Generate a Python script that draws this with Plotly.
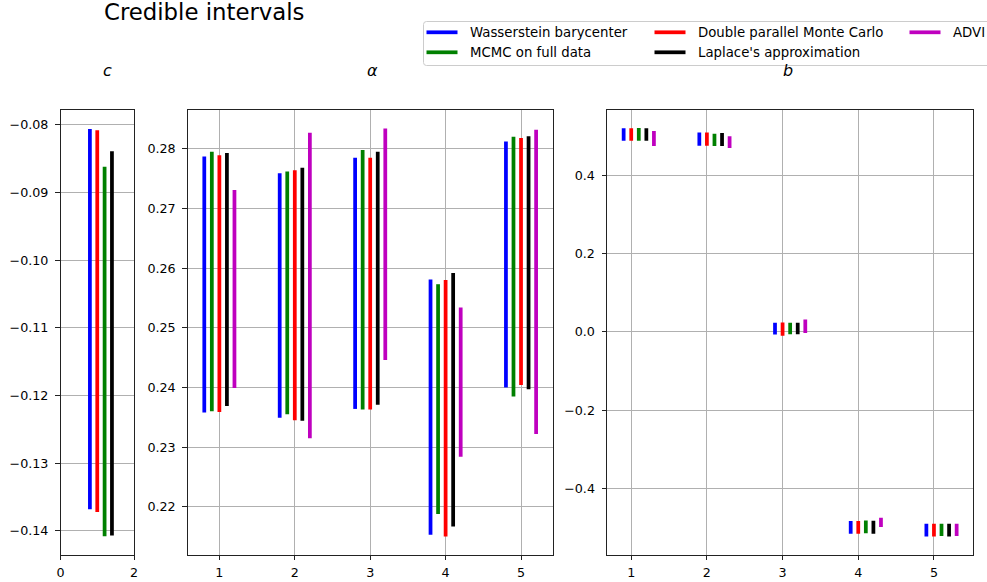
import plotly.graph_objects as go

# ---------------- data ----------------
methods = ["Wasserstein barycenter", "MCMC on full data", "Double parallel Monte Carlo",
           "Laplace's approximation", "ADVI"]
groups = [1, 2, 3, 4, 5]

# parameter c (single value, ADVI not shown)
c_hi = {"Wasserstein barycenter": -0.0806, "Double parallel Monte Carlo": -0.0808,
        "MCMC on full data": -0.0862, "Laplace's approximation": -0.0839}
c_lo = {"Wasserstein barycenter": -0.1368, "Double parallel Monte Carlo": -0.1372,
        "MCMC on full data": -0.1408, "Laplace's approximation": -0.1407}

# parameter alpha
alpha_hi_wb = [0.2787, 0.2759, 0.2785, 0.2581, 0.2812]
alpha_lo_wb = [0.2358, 0.2349, 0.2364, 0.2153, 0.2400]
alpha_hi_mcmc = [0.2795, 0.2762, 0.2798, 0.2573, 0.2820]
alpha_lo_mcmc = [0.2360, 0.2355, 0.2363, 0.2188, 0.2385]
alpha_hi_dpmc = [0.2789, 0.2764, 0.2785, 0.2580, 0.2818]
alpha_lo_dpmc = [0.2359, 0.2345, 0.2363, 0.2150, 0.2404]
alpha_hi_lap = [0.2793, 0.2768, 0.2795, 0.2592, 0.2821]
alpha_lo_lap = [0.2369, 0.2344, 0.2371, 0.2167, 0.2397]
alpha_hi_advi = [0.2731, 0.2827, 0.2834, 0.2534, 0.2832]
alpha_lo_advi = [0.2399, 0.2315, 0.2446, 0.2284, 0.2322]

# parameter b
b_hi_wb = [0.5204, 0.5092, 0.0230, -0.4837, -0.4905]
b_lo_wb = [0.4887, 0.4759, -0.0068, -0.5160, -0.5229]
b_hi_dpmc = [0.5204, 0.5092, 0.0239, -0.4837, -0.4905]
b_lo_dpmc = [0.4887, 0.4759, -0.0102, -0.5160, -0.5229]
b_hi_mcmc = [0.5212, 0.5066, 0.0230, -0.4820, -0.4905]
b_lo_mcmc = [0.4887, 0.4751, -0.0060, -0.5144, -0.5220]
b_hi_lap = [0.5204, 0.5080, 0.0230, -0.4830, -0.4905]
b_lo_lap = [0.4887, 0.4751, -0.0060, -0.5160, -0.5229]
b_hi_advi = [0.5135, 0.4999, 0.0316, -0.4751, -0.4905]
b_lo_advi = [0.4751, 0.4700, -0.0026, -0.4990, -0.5220]

alpha_hi = {methods[0]: alpha_hi_wb, methods[1]: alpha_hi_mcmc, methods[2]: alpha_hi_dpmc,
            methods[3]: alpha_hi_lap, methods[4]: alpha_hi_advi}
alpha_lo = {methods[0]: alpha_lo_wb, methods[1]: alpha_lo_mcmc, methods[2]: alpha_lo_dpmc,
            methods[3]: alpha_lo_lap, methods[4]: alpha_lo_advi}
b_hi = {methods[0]: b_hi_wb, methods[1]: b_hi_mcmc, methods[2]: b_hi_dpmc,
        methods[3]: b_hi_lap, methods[4]: b_hi_advi}
b_lo = {methods[0]: b_lo_wb, methods[1]: b_lo_mcmc, methods[2]: b_lo_dpmc,
        methods[3]: b_lo_lap, methods[4]: b_lo_advi}

# ---------------- styles / positions ----------------
colors = {"Wasserstein barycenter": "#0000ff", "MCMC on full data": "#008000",
          "Double parallel Monte Carlo": "#ff0000", "Laplace's approximation": "#000000",
          "ADVI": "#bf00bf"}
c_pos = {"Wasserstein barycenter": 0.8, "Double parallel Monte Carlo": 1.0,
         "MCMC on full data": 1.2, "Laplace's approximation": 1.4}
alpha_off = {"Wasserstein barycenter": -0.2, "MCMC on full data": -0.1,
             "Double parallel Monte Carlo": 0.0, "Laplace's approximation": 0.1, "ADVI": 0.2}
b_off = {"Wasserstein barycenter": -0.1, "Double parallel Monte Carlo": 0.0,
         "MCMC on full data": 0.1, "Laplace's approximation": 0.2, "ADVI": 0.3}

W, H = 987, 582
LW = 3.75
FONT = "DejaVu Sans"


def px(x):
    return x / W


def py(y):
    return 1 - y / H


def segs(xs, lo, hi):
    X, Y = [], []
    for x, a, b in zip(xs, lo, hi):
        X += [x, x, None]
        Y += [a, b, None]
    return X, Y


fig = go.Figure()

# panel c
for m in ["Wasserstein barycenter", "Double parallel Monte Carlo", "MCMC on full data",
          "Laplace's approximation"]:
    X, Y = segs([c_pos[m]], [c_lo[m]], [c_hi[m]])
    fig.add_trace(go.Scatter(x=X, y=Y, mode="lines", line=dict(color=colors[m], width=LW),
                             xaxis="x", yaxis="y", showlegend=False, hoverinfo="skip"))

# panel alpha
for m in methods:
    X, Y = segs([g + alpha_off[m] for g in groups], alpha_lo[m], alpha_hi[m])
    fig.add_trace(go.Scatter(x=X, y=Y, mode="lines", line=dict(color=colors[m], width=LW),
                             xaxis="x2", yaxis="y2", showlegend=False, hoverinfo="skip"))

# panel b
for m in ["Wasserstein barycenter", "Double parallel Monte Carlo", "MCMC on full data",
          "Laplace's approximation", "ADVI"]:
    X, Y = segs([g + b_off[m] for g in groups], b_lo[m], b_hi[m])
    fig.add_trace(go.Scatter(x=X, y=Y, mode="lines", line=dict(color=colors[m], width=LW),
                             xaxis="x3", yaxis="y3", showlegend=False, hoverinfo="skip"))

ydom = [py(554.5), py(110)]
axcommon = dict(showline=True, mirror=True, linecolor="#222222", linewidth=1,
                ticks="outside", ticklen=4.5, tickwidth=1, tickcolor="#222222",
                showgrid=True, gridcolor="#b0b0b0", gridwidth=1, zeroline=False,
                tickfont=dict(family=FONT, size=12.7, color="#000000"),
                automargin=False)
xstand = dict(ticklabelstandoff=2)
ystand = dict(ticklabelstandoff=4)

fig.update_layout(
    width=W, height=H, autosize=False,
    margin=dict(l=0, r=0, t=0, b=0, pad=0),
    paper_bgcolor="white", plot_bgcolor="white",
    font=dict(family=FONT, color="#000000"),
    xaxis=dict(domain=[px(60.5), px(134)], range=[0, 2], tickvals=[0, 2],
               anchor="y", **axcommon, **xstand),
    yaxis=dict(domain=ydom, range=[-0.1435, -0.0778],
               tickvals=[-0.14, -0.13, -0.12, -0.11, -0.10, -0.09, -0.08],
               tickformat=".2f", anchor="x", **axcommon, **ystand),
    xaxis2=dict(domain=[px(187.7), px(552.7)], range=[0.58, 5.42], tickvals=groups,
                anchor="y2", **axcommon, **xstand),
    yaxis2=dict(domain=ydom, range=[0.2120, 0.2865],
                tickvals=[0.22, 0.23, 0.24, 0.25, 0.26, 0.27, 0.28],
                tickformat=".2f", anchor="x2", **axcommon, **ystand),
    xaxis3=dict(domain=[px(607), px(973.3)], range=[0.68, 5.52], tickvals=groups,
                anchor="y3", **axcommon, **xstand),
    yaxis3=dict(domain=ydom, range=[-0.569, 0.567],
                tickvals=[-0.4, -0.2, 0.0, 0.2, 0.4],
                tickformat=".1f", anchor="x3", **axcommon, **ystand),
)

annotations = []
shapes = []

# suptitle
annotations.append(dict(text="Credible intervals", x=px(102.0), y=py(12.0), xref="paper",
                        yref="paper", xanchor="left", yanchor="middle", showarrow=False,
                        font=dict(family=FONT, size=22.8, color="#000000")))
# panel titles
for txt, xc in [("c", 107.2), ("α", 372.0), ("b", 788.0)]:
    annotations.append(dict(text="<i>" + txt + "</i>", x=px(xc), y=py(70.5), xref="paper",
                            yref="paper", xanchor="center", yanchor="middle",
                            showarrow=False,
                            font=dict(family=FONT, size=16, color="#000000")))

# legend box (rounded)
x0, x1, y0, y1, r = 423.5, 1000, 21.5, 65.5, 3
path = (f"M {px(x0 + r)},{py(y0)} L {px(x1)},{py(y0)} L {px(x1)},{py(y1)} "
        f"L {px(x0 + r)},{py(y1)} Q {px(x0)},{py(y1)} {px(x0)},{py(y1 - r)} "
        f"L {px(x0)},{py(y0 + r)} Q {px(x0)},{py(y0)} {px(x0 + r)},{py(y0)} Z")
shapes.append(dict(type="path", path=path, xref="paper", yref="paper",
                   line=dict(color="#cccccc", width=1), fillcolor="rgba(255,255,255,0.8)",
                   layer="above"))

legend_layout = [
    ("Wasserstein barycenter", 426.5, 32.3),
    ("MCMC on full data", 426.5, 52.3),
    ("Double parallel Monte Carlo", 654.5, 32.3),
    ("Laplace's approximation", 654.5, 52.3),
    ("ADVI", 909.5, 32.3),
]
for m, lx, ly in legend_layout:
    shapes.append(dict(type="line", xref="paper", yref="paper", x0=px(lx), x1=px(lx + 31),
                       y0=py(ly), y1=py(ly), line=dict(color=colors[m], width=3.75),
                       layer="above"))
    annotations.append(dict(text=m, x=px(lx + 41.5), y=py(ly), xref="paper", yref="paper",
                            xanchor="left", yanchor="middle", showarrow=False,
                            font=dict(family=FONT, size=13.3, color="#000000")))

fig.update_layout(annotations=annotations, shapes=shapes)
fig.write_html("out.html")
